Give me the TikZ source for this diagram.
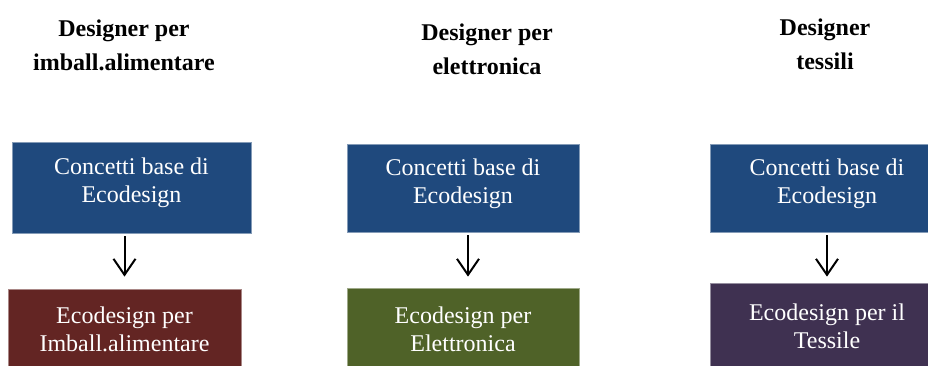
\documentclass[tikz,border=0pt]{standalone}
\usepackage{fontspec}
\setmainfont{Liberation Serif}
\usetikzlibrary{arrows.meta,positioning}
\definecolor{conceptcolor}{RGB}{31,73,125}
\definecolor{foodcolor}{RGB}{99,37,35}
\definecolor{electrocolor}{RGB}{79,98,40}
\definecolor{textilecolor}{RGB}{63,49,81}

\begin{document}
\begin{tikzpicture}[
    x=0.5pt, y=-0.5pt,
    title/.style={align=center, font=\fontsize{12}{17}\selectfont\bfseries},
    box/.style={rectangle, draw=#1!55, line width=0.4pt, fill=#1, text=white, align=center, inner sep=0pt, font=\fontsize{12}{14}\selectfont},
    concept/.style={box=conceptcolor, minimum height=44pt, text depth=7pt},
    arrow/.style={-{Straight Barb[length=8pt,width=11pt]}, line width=1pt}
]
\useasboundingbox (0,0) rectangle (928,365);
\clip (0,0) rectangle (928,365);

% titles
\node[title] (t1) at (124,45) {Designer per\\imball.alimentare};
\node[title] (t2) at (487,49) {Designer per\\elettronica};
\node[title] (t3) at (825,44) {Designer\\tessili};

% base concepts
\node[concept, minimum width=119.5pt, minimum height=45.5pt] (c1) at (131.5,187.5) {Concetti base di\\Ecodesign};
\node[concept, minimum width=116pt] (c2) at (463,188) {Concetti base di\\Ecodesign};
\node[concept, minimum width=117pt] (c3) at (827,188) {Concetti base di\\Ecodesign};

% ecodesign per settore
\node[box=foodcolor, minimum width=116.5pt, minimum height=40.5pt] (e1) at (124.5,329.5) {Ecodesign per\\Imball.alimentare};
\node[box=electrocolor, minimum width=116pt, minimum height=41pt] (e2) at (463,329) {Ecodesign per\\Elettronica};
\node[box=textilecolor, minimum width=117pt, minimum height=43.5pt] (e3) at (827,326.5) {Ecodesign per il\\Tessile};

\draw[arrow, shorten <=1.5pt, shorten >=6pt] (e1.north |- c1.south) -- (e1.north);
\draw[arrow, shorten <=1.5pt, shorten >=5.5pt] ([xshift=2.5pt]c2.south) -- ([xshift=2.5pt]e2.north);
\draw[arrow, shorten <=1.5pt, shorten >=3pt] (c3.south) -- (c3.south |- e3.north);
\end{tikzpicture}
\end{document}
